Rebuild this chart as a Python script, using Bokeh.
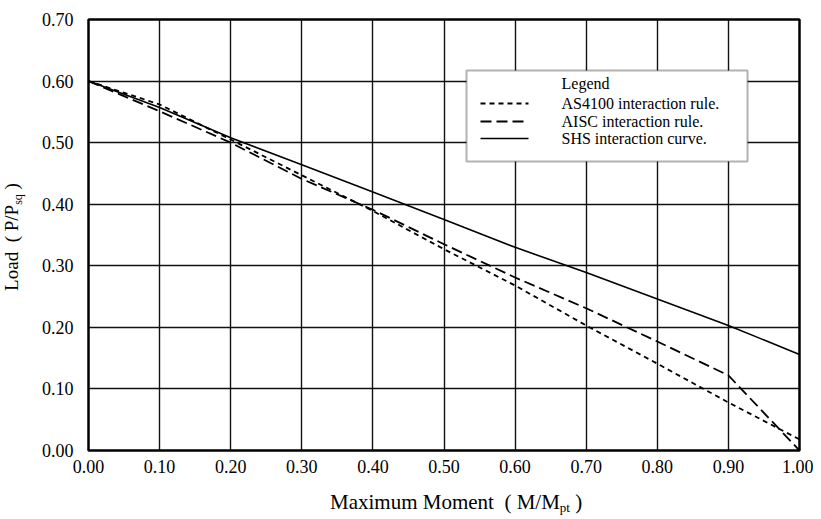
from bokeh.plotting import figure
from bokeh.layouts import row, column
from bokeh.models import (Range1d, FixedTicker, NumeralTickFormatter, Label,
                          BoxAnnotation, Arrow, Div)
from bokeh.embed import file_html
from bokeh.resources import INLINE

# ---- data ----
moment = [0.0, 0.1, 0.2, 0.3, 0.4, 0.5, 0.6, 0.7, 0.8, 0.9, 1.0]
as4100 = [0.600, 0.562, 0.505, 0.447, 0.389, 0.327, 0.268, 0.203, 0.141, 0.078, 0.018]
aisc   = [0.600, 0.551, 0.500, 0.441, 0.391, 0.335, 0.281, 0.231, 0.177, 0.122, 0.000]
shs    = [0.600, 0.557, 0.508, 0.464, 0.420, 0.375, 0.330, 0.289, 0.246, 0.203, 0.156]

x_ticks = [0.0, 0.1, 0.2, 0.3, 0.4, 0.5, 0.6, 0.7, 0.8, 0.9, 1.0]
y_ticks = [0.0, 0.1, 0.2, 0.3, 0.4, 0.5, 0.6, 0.7]

series_labels = ["AS4100 interaction rule.", "AISC interaction rule.", "SHS interaction curve."]
series_dash = ["5 4", "11 5", "solid"]
legend_title = "Legend"

FONT = "Liberation Serif"

p = figure(width=783, height=480, output_backend="svg", toolbar_location=None,
           x_range=Range1d(0, 1), y_range=Range1d(0, 0.7),
           min_border_left=58, min_border_right=14, min_border_top=19,
           min_border_bottom=30, margin=0)
p.background_fill_color = "white"
p.border_fill_color = "white"
p.outline_line_color = "black"
p.outline_line_width = 2.5

for ax, ticks in ((p.xaxis, x_ticks), (p.yaxis, y_ticks)):
    ax.ticker = FixedTicker(ticks=ticks)
    ax.formatter = NumeralTickFormatter(format="0.00")
    ax.major_label_text_font = FONT
    ax.major_label_text_font_size = "18px"
    ax.major_label_text_color = "black"
    ax.axis_line_color = None
    ax.major_tick_line_color = None
    ax.minor_tick_line_color = None
p.xaxis.major_label_standoff = 3
p.yaxis.major_label_standoff = 9

for g in (p.xgrid, p.ygrid):
    g.grid_line_color = "#111111"
    g.grid_line_width = 1.4
    g.grid_line_alpha = 1.0
p.xgrid.ticker = FixedTicker(ticks=x_ticks)
p.ygrid.ticker = FixedTicker(ticks=y_ticks)

p.line(moment, as4100, line_color="black", line_width=1.8, line_dash=series_dash[0])
p.line(moment, aisc, line_color="black", line_width=1.8, line_dash=series_dash[1])
p.line(moment, shs, line_color="black", line_width=1.6)

# ---- legend (drawn in screen units relative to the frame) ----
p.add_layout(BoxAnnotation(left=378, right=659, top=380, bottom=289,
                           left_units="screen", right_units="screen",
                           top_units="screen", bottom_units="screen",
                           fill_color="white", fill_alpha=1.0,
                           line_color="black", line_width=2, level="overlay"))

def lab(text, x, y):
    p.add_layout(Label(x=x, y=y, x_units="screen", y_units="screen", text=text,
                       text_align="left", text_baseline="middle",
                       text_font=FONT, text_font_size="16px", text_color="black",
                       level="overlay"))

row_y = [367, 347, 329, 312]
lab(legend_title, 473, row_y[0])
for i, (txt, dash) in enumerate(zip(series_labels, series_dash)):
    yy = row_y[i + 1]
    lab(txt, 473, yy)
    p.add_layout(Arrow(end=None, x_start=392, y_start=yy, x_end=440, y_end=yy,
                       start_units="screen", end_units="screen",
                       line_color="black",
                       line_width=1.8 if dash != "solid" else 1.6,
                       line_dash=dash, level="overlay"))

# ---- axis titles as HTML (for subscripts) ----
xlabel_html = (
    '<div style="position:relative;width:783px;height:37px;">'
    '<span style="position:absolute;left:300px;top:12px;white-space:nowrap;'
    "font-family:'Liberation Serif';font-size:21px;line-height:21px;color:black;\">"
    'Maximum Moment&nbsp; ( M/M<span style="font-size:13px;position:relative;top:3px;">pt</span> )'
    '</span></div>'
)
ylabel_html = (
    '<div style="position:relative;width:30px;height:517px;">'
    '<span style="position:absolute;left:13px;top:237px;white-space:nowrap;'
    'transform:translate(-50%,-50%) rotate(-90deg);'
    "font-family:'Liberation Serif';font-size:19px;line-height:19px;color:black;\">"
    'Load&nbsp; ( P/P<span style="font-size:12px;position:relative;top:4px;">sq</span> )'
    '</span></div>'
)
xdiv = Div(text=xlabel_html, width=783, height=37, margin=0)
ydiv = Div(text=ylabel_html, width=30, height=517, margin=0)

layout = row(ydiv, column(p, xdiv, spacing=0, margin=0), spacing=0, margin=0)

open("out.html", "w").write(file_html(layout, INLINE))
